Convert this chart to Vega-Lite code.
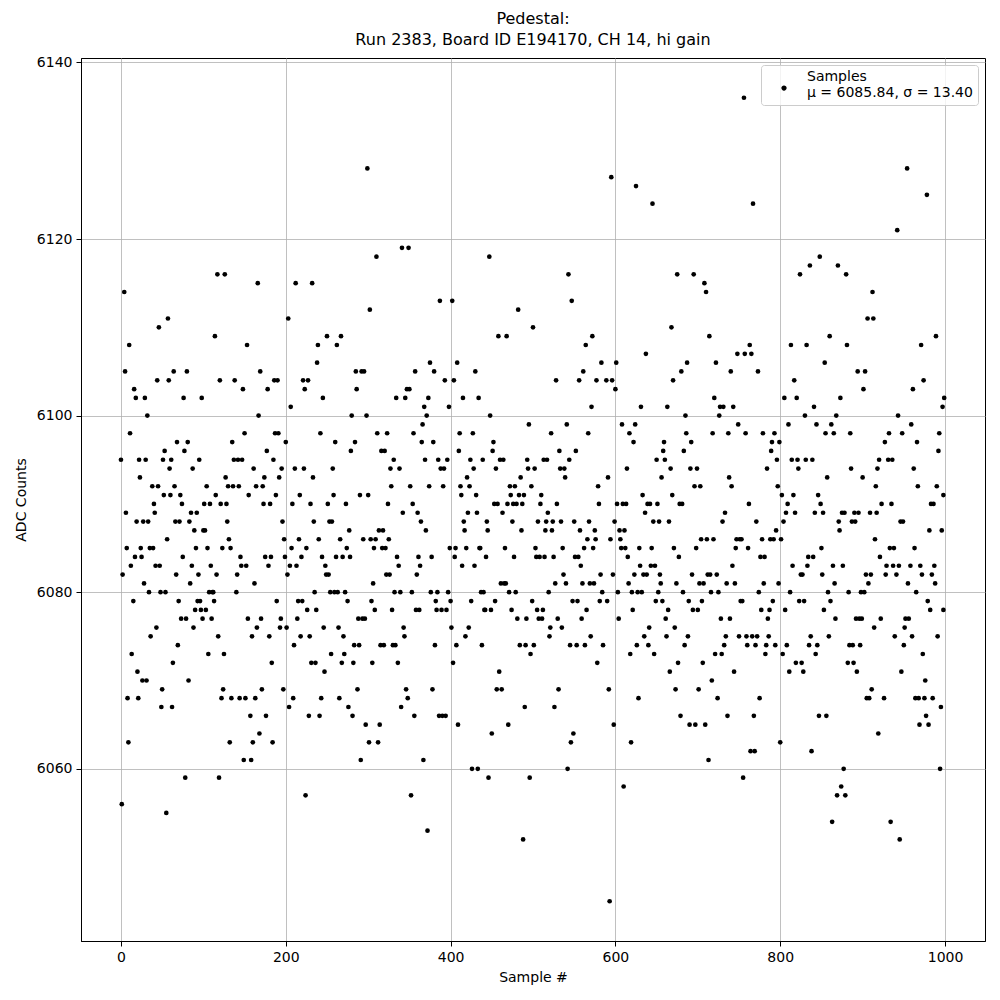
{
"$schema": "https://vega.github.io/schema/vega-lite/v6.json",
"width": 904, "height": 883,
"autosize": {"type": "none"},
"padding": {"left": 81, "top": 58, "right": 15, "bottom": 59},
"background": "white",
"title": {"text": ["Pedestal:", "Run 2383, Board ID E194170, CH 14, hi gain"], "fontSize": 16, "font": "DejaVu Sans", "fontWeight": "normal", "lineHeight": 21, "offset": 7, "anchor": "middle", "color": "black"},
"data": {"values": [
{"s":0,"v":6095},{"s":1,"v":6056},{"s":2,"v":6082},{"s":4,"v":6114},{"s":5,"v":6105},{"s":6,"v":6089},{"s":7,"v":6085},{"s":8,"v":6068},{"s":9,"v":6063},{"s":10,"v":6108},{"s":11,"v":6098},{"s":12,"v":6083},{"s":13,"v":6073},{"s":15,"v":6079},{"s":16,"v":6103},{"s":17,"v":6084},{"s":18,"v":6102},{"s":19,"v":6088},{"s":20,"v":6071},{"s":21,"v":6068},{"s":22,"v":6095},{"s":23,"v":6093},{"s":24,"v":6085},{"s":25,"v":6084},{"s":26,"v":6070},{"s":27,"v":6088},{"s":28,"v":6081},{"s":29,"v":6102},{"s":30,"v":6095},{"s":31,"v":6070},{"s":32,"v":6100},{"s":33,"v":6088},{"s":34,"v":6080},{"s":35,"v":6085},{"s":36,"v":6075},{"s":38,"v":6092},{"s":39,"v":6085},{"s":40,"v":6090},{"s":41,"v":6089},{"s":42,"v":6083},{"s":43,"v":6076},{"s":44,"v":6104},{"s":45,"v":6092},{"s":46,"v":6110},{"s":47,"v":6083},{"s":48,"v":6080},{"s":49,"v":6067},{"s":50,"v":6069},{"s":51,"v":6095},{"s":52,"v":6091},{"s":53,"v":6096},{"s":54,"v":6080},{"s":55,"v":6055},{"s":56,"v":6086},{"s":57,"v":6111},{"s":58,"v":6104},{"s":59,"v":6094},{"s":60,"v":6091},{"s":61,"v":6095},{"s":62,"v":6067},{"s":63,"v":6072},{"s":64,"v":6105},{"s":65,"v":6092},{"s":66,"v":6088},{"s":67,"v":6082},{"s":68,"v":6097},{"s":69,"v":6074},{"s":70,"v":6079},{"s":71,"v":6088},{"s":72,"v":6091},{"s":73,"v":6077},{"s":74,"v":6090},{"s":75,"v":6084},
{"s":76,"v":6102},{"s":77,"v":6096},{"s":78,"v":6059},{"s":79,"v":6077},{"s":80,"v":6105},{"s":81,"v":6097},{"s":82,"v":6070},{"s":83,"v":6088},{"s":84,"v":6081},{"s":85,"v":6089},{"s":86,"v":6083},{"s":87,"v":6094},{"s":88,"v":6076},{"s":89,"v":6087},{"s":90,"v":6078},{"s":91,"v":6085},{"s":92,"v":6089},{"s":93,"v":6079},{"s":94,"v":6082},{"s":95,"v":6095},{"s":96,"v":6079},{"s":97,"v":6078},{"s":98,"v":6102},{"s":99,"v":6077},{"s":100,"v":6087},{"s":101,"v":6090},{"s":102,"v":6087},{"s":103,"v":6078},{"s":104,"v":6092},{"s":105,"v":6085},{"s":106,"v":6073},{"s":107,"v":6080},{"s":108,"v":6090},{"s":109,"v":6083},{"s":110,"v":6077},{"s":111,"v":6080},{"s":112,"v":6080},{"s":113,"v":6079},{"s":114,"v":6109},{"s":115,"v":6091},{"s":116,"v":6082},{"s":117,"v":6116},{"s":118,"v":6075},{"s":119,"v":6059},{"s":120,"v":6104},{"s":121,"v":6090},{"s":122,"v":6068},{"s":123,"v":6085},{"s":124,"v":6069},{"s":125,"v":6073},{"s":126,"v":6116},{"s":127,"v":6093},{"s":128,"v":6090},{"s":129,"v":6088},{"s":130,"v":6092},{"s":131,"v":6086},{"s":132,"v":6063},{"s":133,"v":6085},{"s":134,"v":6068},{"s":135,"v":6097},{"s":136,"v":6092},{"s":137,"v":6095},{"s":138,"v":6104},{"s":140,"v":6080},{"s":141,"v":6082},{"s":142,"v":6095},{"s":143,"v":6092},{"s":144,"v":6068},{"s":145,"v":6084},{"s":146,"v":6083},{"s":147,"v":6095},{"s":148,"v":6103},{"s":149,"v":6061},{"s":150,"v":6098},{"s":151,"v":6068},{"s":152,"v":6083},{"s":153,"v":6108},{"s":154,"v":6077},{"s":155,"v":6091},{"s":157,"v":6066},{"s":158,"v":6061},
{"s":159,"v":6075},{"s":160,"v":6063},{"s":161,"v":6094},{"s":162,"v":6081},{"s":163,"v":6068},{"s":164,"v":6092},{"s":165,"v":6076},{"s":166,"v":6115},{"s":167,"v":6100},{"s":168,"v":6064},{"s":169,"v":6105},{"s":170,"v":6077},{"s":171,"v":6069},{"s":172,"v":6092},{"s":173,"v":6090},{"s":174,"v":6093},{"s":175,"v":6084},{"s":176,"v":6066},{"s":177,"v":6096},{"s":178,"v":6103},{"s":179,"v":6083},{"s":180,"v":6075},{"s":181,"v":6090},{"s":182,"v":6084},{"s":183,"v":6072},{"s":184,"v":6063},{"s":185,"v":6095},{"s":186,"v":6104},{"s":187,"v":6098},{"s":188,"v":6091},{"s":189,"v":6079},{"s":190,"v":6104},{"s":191,"v":6098},{"s":192,"v":6093},{"s":193,"v":6076},{"s":194,"v":6077},{"s":195,"v":6094},{"s":196,"v":6088},{"s":197,"v":6069},{"s":198,"v":6086},{"s":199,"v":6084},{"s":200,"v":6097},{"s":201,"v":6076},{"s":202,"v":6082},{"s":203,"v":6111},{"s":204,"v":6067},{"s":205,"v":6083},{"s":206,"v":6101},{"s":207,"v":6085},{"s":208,"v":6090},{"s":209,"v":6068},{"s":210,"v":6074},{"s":211,"v":6094},{"s":212,"v":6115},{"s":213,"v":6083},{"s":214,"v":6077},{"s":215,"v":6079},{"s":216,"v":6086},{"s":217,"v":6091},{"s":218,"v":6075},{"s":219,"v":6084},{"s":220,"v":6079},{"s":221,"v":6104},{"s":222,"v":6094},{"s":223,"v":6103},{"s":224,"v":6057},{"s":225,"v":6085},{"s":226,"v":6078},{"s":227,"v":6104},{"s":228,"v":6066},{"s":229,"v":6075},{"s":230,"v":6090},{"s":231,"v":6072},{"s":232,"v":6115},{"s":233,"v":6093},{"s":234,"v":6088},{"s":235,"v":6080},{"s":236,"v":6072},{"s":237,"v":6078},{"s":238,"v":6106},{"s":239,"v":6108},{"s":240,"v":6086},{"s":241,"v":6066},{"s":242,"v":6098},{"s":243,"v":6068},{"s":244,"v":6084},
{"s":245,"v":6102},{"s":246,"v":6076},{"s":247,"v":6071},{"s":248,"v":6083},{"s":249,"v":6082},{"s":250,"v":6109},{"s":251,"v":6090},{"s":252,"v":6082},{"s":253,"v":6088},{"s":254,"v":6080},{"s":255,"v":6073},{"s":256,"v":6088},{"s":257,"v":6094},{"s":258,"v":6091},{"s":259,"v":6080},{"s":260,"v":6097},{"s":261,"v":6084},{"s":262,"v":6108},{"s":263,"v":6080},{"s":264,"v":6076},{"s":265,"v":6068},{"s":266,"v":6086},{"s":267,"v":6109},{"s":268,"v":6072},{"s":269,"v":6084},{"s":270,"v":6075},{"s":271,"v":6073},{"s":272,"v":6080},{"s":273,"v":6090},{"s":274,"v":6085},{"s":275,"v":6079},{"s":276,"v":6067},{"s":277,"v":6087},{"s":278,"v":6084},{"s":279,"v":6096},{"s":280,"v":6100},{"s":281,"v":6066},{"s":282,"v":6072},{"s":283,"v":6074},{"s":284,"v":6097},{"s":285,"v":6105},{"s":286,"v":6103},{"s":287,"v":6069},{"s":288,"v":6077},{"s":289,"v":6074},{"s":290,"v":6091},{"s":291,"v":6061},{"s":292,"v":6105},{"s":293,"v":6077},{"s":294,"v":6086},{"s":295,"v":6105},{"s":296,"v":6077},{"s":297,"v":6065},{"s":298,"v":6100},{"s":299,"v":6128},{"s":300,"v":6091},{"s":301,"v":6063},{"s":302,"v":6112},{"s":303,"v":6086},{"s":304,"v":6079},{"s":305,"v":6072},{"s":306,"v":6081},{"s":307,"v":6085},{"s":308,"v":6078},{"s":309,"v":6086},{"s":310,"v":6118},{"s":311,"v":6098},{"s":312,"v":6063},{"s":313,"v":6087},{"s":314,"v":6065},{"s":315,"v":6074},{"s":316,"v":6096},{"s":317,"v":6085},{"s":318,"v":6087},{"s":319,"v":6074},{"s":320,"v":6096},{"s":321,"v":6085},{"s":322,"v":6082},{"s":323,"v":6098},{"s":324,"v":6090},{"s":325,"v":6086},{"s":326,"v":6082},{"s":327,"v":6094},{"s":328,"v":6092},{"s":329,"v":6078},{"s":330,"v":6074},
{"s":331,"v":6095},{"s":332,"v":6080},{"s":333,"v":6074},{"s":334,"v":6102},{"s":335,"v":6084},{"s":336,"v":6072},{"s":337,"v":6083},{"s":338,"v":6094},{"s":339,"v":6080},{"s":340,"v":6067},{"s":341,"v":6119},{"s":342,"v":6089},{"s":343,"v":6076},{"s":344,"v":6075},{"s":345,"v":6102},{"s":346,"v":6069},{"s":347,"v":6103},{"s":348,"v":6068},{"s":349,"v":6119},{"s":350,"v":6103},{"s":351,"v":6092},{"s":352,"v":6057},{"s":353,"v":6080},{"s":354,"v":6090},{"s":355,"v":6098},{"s":356,"v":6066},{"s":357,"v":6105},{"s":358,"v":6078},{"s":359,"v":6082},{"s":360,"v":6089},{"s":361,"v":6084},{"s":362,"v":6078},{"s":363,"v":6083},{"s":364,"v":6088},{"s":365,"v":6097},{"s":366,"v":6099},{"s":367,"v":6061},{"s":368,"v":6101},{"s":369,"v":6095},{"s":370,"v":6087},{"s":371,"v":6100},{"s":372,"v":6053},{"s":373,"v":6102},{"s":374,"v":6092},{"s":375,"v":6106},{"s":376,"v":6080},{"s":377,"v":6084},{"s":378,"v":6069},{"s":379,"v":6097},{"s":380,"v":6105},{"s":381,"v":6074},{"s":382,"v":6079},{"s":383,"v":6078},{"s":384,"v":6080},{"s":385,"v":6095},{"s":386,"v":6066},{"s":387,"v":6113},{"s":388,"v":6094},{"s":389,"v":6078},{"s":390,"v":6066},{"s":391,"v":6092},{"s":392,"v":6094},{"s":393,"v":6104},{"s":394,"v":6066},{"s":395,"v":6078},{"s":396,"v":6095},{"s":397,"v":6080},{"s":398,"v":6101},{"s":399,"v":6085},{"s":400,"v":6079},{"s":401,"v":6076},{"s":402,"v":6113},{"s":403,"v":6072},{"s":404,"v":6104},{"s":405,"v":6084},{"s":406,"v":6085},{"s":407,"v":6074},{"s":408,"v":6106},{"s":409,"v":6065},{"s":410,"v":6096},{"s":411,"v":6098},{"s":412,"v":6092},{"s":413,"v":6091},{"s":414,"v":6083},{"s":415,"v":6102},
{"s":416,"v":6088},{"s":417,"v":6087},{"s":418,"v":6075},{"s":419,"v":6085},{"s":420,"v":6093},{"s":421,"v":6089},{"s":422,"v":6076},{"s":423,"v":6092},{"s":424,"v":6095},{"s":425,"v":6079},{"s":426,"v":6060},{"s":427,"v":6098},{"s":428,"v":6094},{"s":429,"v":6083},{"s":430,"v":6105},{"s":431,"v":6091},{"s":432,"v":6089},{"s":433,"v":6060},{"s":434,"v":6102},{"s":435,"v":6085},{"s":436,"v":6085},{"s":437,"v":6080},{"s":438,"v":6074},{"s":439,"v":6095},{"s":440,"v":6080},{"s":441,"v":6078},{"s":442,"v":6078},{"s":443,"v":6084},{"s":444,"v":6088},{"s":445,"v":6087},{"s":446,"v":6059},{"s":447,"v":6118},{"s":448,"v":6100},{"s":449,"v":6078},{"s":450,"v":6064},{"s":451,"v":6096},{"s":452,"v":6097},{"s":453,"v":6090},{"s":454,"v":6079},{"s":455,"v":6094},{"s":456,"v":6069},{"s":457,"v":6090},{"s":458,"v":6109},{"s":459,"v":6071},{"s":460,"v":6095},{"s":461,"v":6081},{"s":462,"v":6069},{"s":463,"v":6089},{"s":464,"v":6095},{"s":465,"v":6081},{"s":466,"v":6085},{"s":467,"v":6081},{"s":468,"v":6109},{"s":469,"v":6090},{"s":470,"v":6065},{"s":471,"v":6080},{"s":472,"v":6092},{"s":473,"v":6091},{"s":474,"v":6078},{"s":475,"v":6088},{"s":476,"v":6090},{"s":477,"v":6084},{"s":478,"v":6092},{"s":479,"v":6080},{"s":480,"v":6090},{"s":481,"v":6077},{"s":482,"v":6112},{"s":483,"v":6091},{"s":484,"v":6074},{"s":485,"v":6093},{"s":486,"v":6087},{"s":487,"v":6090},{"s":488,"v":6052},{"s":489,"v":6091},{"s":490,"v":6067},{"s":491,"v":6074},{"s":492,"v":6077},{"s":493,"v":6095},{"s":494,"v":6094},{"s":495,"v":6099},{"s":496,"v":6059},{"s":497,"v":6073},{"s":498,"v":6092},{"s":499,"v":6079},{"s":500,"v":6110},{"s":501,"v":6074},{"s":502,"v":6094},{"s":503,"v":6085},
{"s":504,"v":6084},{"s":505,"v":6078},{"s":506,"v":6088},{"s":507,"v":6077},{"s":508,"v":6084},{"s":509,"v":6090},{"s":510,"v":6091},{"s":511,"v":6077},{"s":512,"v":6078},{"s":513,"v":6095},{"s":514,"v":6084},{"s":515,"v":6087},{"s":516,"v":6088},{"s":517,"v":6095},{"s":518,"v":6089},{"s":519,"v":6080},{"s":520,"v":6075},{"s":521,"v":6076},{"s":522,"v":6098},{"s":523,"v":6087},{"s":524,"v":6088},{"s":525,"v":6084},{"s":526,"v":6067},{"s":527,"v":6081},{"s":528,"v":6104},{"s":529,"v":6090},{"s":530,"v":6077},{"s":531,"v":6069},{"s":532,"v":6096},{"s":533,"v":6094},{"s":534,"v":6088},{"s":535,"v":6076},{"s":536,"v":6085},{"s":537,"v":6082},{"s":538,"v":6094},{"s":539,"v":6093},{"s":540,"v":6081},{"s":541,"v":6099},{"s":542,"v":6060},{"s":543,"v":6116},{"s":544,"v":6095},{"s":545,"v":6074},{"s":546,"v":6063},{"s":547,"v":6113},{"s":548,"v":6079},{"s":549,"v":6064},{"s":550,"v":6088},{"s":551,"v":6084},{"s":552,"v":6096},{"s":553,"v":6074},{"s":554,"v":6079},{"s":555,"v":6084},{"s":556,"v":6104},{"s":557,"v":6087},{"s":558,"v":6083},{"s":559,"v":6077},{"s":560,"v":6081},{"s":561,"v":6105},{"s":562,"v":6085},{"s":563,"v":6074},{"s":564,"v":6108},{"s":565,"v":6078},{"s":566,"v":6086},{"s":567,"v":6098},{"s":568,"v":6088},{"s":569,"v":6081},{"s":570,"v":6075},{"s":571,"v":6101},{"s":572,"v":6109},{"s":573,"v":6085},{"s":574,"v":6081},{"s":575,"v":6087},{"s":576,"v":6086},{"s":577,"v":6104},{"s":578,"v":6072},{"s":579,"v":6092},{"s":580,"v":6090},{"s":581,"v":6079},{"s":582,"v":6082},{"s":583,"v":6106},{"s":584,"v":6080},{"s":585,"v":6074},
{"s":589,"v":6104},{"s":590,"v":6079},{"s":591,"v":6093},{"s":592,"v":6069},{"s":593,"v":6045},{"s":594,"v":6086},{"s":595,"v":6127},{"s":596,"v":6104},{"s":597,"v":6082},{"s":598,"v":6065},{"s":599,"v":6088},{"s":600,"v":6103},{"s":601,"v":6106},{"s":602,"v":6090},{"s":603,"v":6080},{"s":604,"v":6077},{"s":605,"v":6087},{"s":606,"v":6086},{"s":607,"v":6085},{"s":608,"v":6099},{"s":609,"v":6090},{"s":610,"v":6058},{"s":611,"v":6087},{"s":612,"v":6085},{"s":613,"v":6090},{"s":614,"v":6094},{"s":615,"v":6084},{"s":616,"v":6081},{"s":617,"v":6098},{"s":618,"v":6073},{"s":619,"v":6063},{"s":620,"v":6080},{"s":621,"v":6078},{"s":622,"v":6097},{"s":623,"v":6082},{"s":624,"v":6099},{"s":625,"v":6126},{"s":626,"v":6074},{"s":627,"v":6080},{"s":628,"v":6068},{"s":629,"v":6085},{"s":630,"v":6083},{"s":631,"v":6101},{"s":632,"v":6080},{"s":633,"v":6091},{"s":634,"v":6082},{"s":635,"v":6075},{"s":636,"v":6089},{"s":637,"v":6107},{"s":638,"v":6082},{"s":639,"v":6090},{"s":640,"v":6074},{"s":641,"v":6076},{"s":642,"v":6090},{"s":643,"v":6083},{"s":644,"v":6085},{"s":645,"v":6124},{"s":646,"v":6088},{"s":647,"v":6073},{"s":648,"v":6083},{"s":649,"v":6079},{"s":650,"v":6095},{"s":651,"v":6090},{"s":652,"v":6080},{"s":653,"v":6088},{"s":654,"v":6082},{"s":655,"v":6081},{"s":656,"v":6093},{"s":657,"v":6079},{"s":658,"v":6096},{"s":659,"v":6097},{"s":660,"v":6095},{"s":661,"v":6077},{"s":662,"v":6075},{"s":663,"v":6101},{"s":664,"v":6078},{"s":665,"v":6088},{"s":666,"v":6071},{"s":667,"v":6094},{"s":668,"v":6110},{"s":669,"v":6091},{"s":670,"v":6104},{"s":671,"v":6085},{"s":672,"v":6076},{"s":673,"v":6069},
{"s":674,"v":6081},{"s":675,"v":6116},{"s":676,"v":6072},{"s":677,"v":6084},{"s":678,"v":6090},{"s":679,"v":6066},{"s":680,"v":6105},{"s":681,"v":6090},{"s":682,"v":6080},{"s":683,"v":6096},{"s":684,"v":6074},{"s":685,"v":6100},{"s":686,"v":6098},{"s":687,"v":6106},{"s":688,"v":6075},{"s":689,"v":6079},{"s":690,"v":6065},{"s":691,"v":6094},{"s":692,"v":6097},{"s":693,"v":6082},{"s":694,"v":6078},{"s":695,"v":6116},{"s":696,"v":6092},{"s":697,"v":6065},{"s":698,"v":6085},{"s":699,"v":6094},{"s":700,"v":6078},{"s":701,"v":6069},{"s":702,"v":6081},{"s":703,"v":6092},{"s":704,"v":6086},{"s":705,"v":6079},{"s":706,"v":6072},{"s":707,"v":6081},{"s":708,"v":6115},{"s":709,"v":6065},{"s":710,"v":6114},{"s":711,"v":6086},{"s":712,"v":6082},{"s":713,"v":6061},{"s":714,"v":6109},{"s":715,"v":6082},{"s":716,"v":6080},{"s":717,"v":6070},{"s":718,"v":6098},{"s":719,"v":6086},{"s":720,"v":6102},{"s":721,"v":6073},{"s":722,"v":6106},{"s":723,"v":6082},{"s":724,"v":6068},{"s":725,"v":6080},{"s":726,"v":6100},{"s":727,"v":6101},{"s":728,"v":6077},{"s":729,"v":6073},{"s":730,"v":6088},{"s":731,"v":6101},{"s":732,"v":6074},{"s":733,"v":6089},{"s":734,"v":6075},{"s":735,"v":6081},{"s":736,"v":6066},{"s":737,"v":6098},{"s":738,"v":6093},{"s":739,"v":6077},{"s":740,"v":6105},{"s":741,"v":6092},{"s":742,"v":6083},{"s":743,"v":6101},{"s":744,"v":6071},{"s":745,"v":6081},{"s":746,"v":6085},{"s":747,"v":6086},{"s":748,"v":6107},{"s":749,"v":6099},{"s":750,"v":6075},{"s":751,"v":6086},{"s":752,"v":6079},
{"s":753,"v":6086},{"s":754,"v":6079},{"s":755,"v":6059},{"s":756,"v":6136},{"s":757,"v":6107},{"s":758,"v":6098},{"s":759,"v":6075},{"s":760,"v":6074},{"s":761,"v":6085},{"s":762,"v":6090},{"s":763,"v":6108},{"s":764,"v":6062},{"s":765,"v":6107},{"s":766,"v":6075},{"s":767,"v":6124},{"s":768,"v":6066},{"s":769,"v":6062},{"s":770,"v":6074},{"s":771,"v":6088},{"s":772,"v":6075},{"s":773,"v":6105},{"s":774,"v":6080},{"s":775,"v":6068},{"s":776,"v":6084},{"s":777,"v":6078},{"s":778,"v":6086},{"s":779,"v":6098},{"s":780,"v":6081},{"s":781,"v":6084},{"s":782,"v":6073},{"s":783,"v":6074},{"s":784,"v":6094},{"s":785,"v":6077},{"s":786,"v":6075},{"s":787,"v":6078},{"s":788,"v":6086},{"s":789,"v":6096},{"s":790,"v":6097},{"s":791,"v":6079},{"s":792,"v":6086},{"s":793,"v":6098},{"s":794,"v":6074},{"s":795,"v":6087},{"s":796,"v":6095},{"s":797,"v":6092},{"s":798,"v":6081},{"s":799,"v":6097},{"s":800,"v":6063},{"s":801,"v":6086},{"s":802,"v":6091},{"s":803,"v":6073},{"s":804,"v":6088},{"s":805,"v":6102},{"s":806,"v":6078},{"s":807,"v":6089},{"s":808,"v":6074},{"s":809,"v":6090},{"s":810,"v":6099},{"s":811,"v":6071},{"s":812,"v":6080},{"s":813,"v":6108},{"s":814,"v":6095},{"s":815,"v":6083},{"s":816,"v":6091},{"s":817,"v":6104},{"s":818,"v":6089},{"s":819,"v":6072},{"s":820,"v":6102},{"s":821,"v":6095},{"s":822,"v":6094},{"s":823,"v":6079},{"s":824,"v":6116},{"s":825,"v":6082},{"s":826,"v":6072},{"s":827,"v":6082},{"s":828,"v":6071},{"s":829,"v":6079},{"s":830,"v":6100},{"s":831,"v":6095},{"s":832,"v":6108},{"s":833,"v":6083},{"s":834,"v":6084},{"s":835,"v":6074},{"s":836,"v":6117},{"s":837,"v":6075},{"s":838,"v":6062},
{"s":839,"v":6095},{"s":840,"v":6084},{"s":841,"v":6101},{"s":842,"v":6089},{"s":843,"v":6073},{"s":844,"v":6099},{"s":845,"v":6074},{"s":846,"v":6091},{"s":847,"v":6066},{"s":848,"v":6118},{"s":849,"v":6090},{"s":850,"v":6085},{"s":851,"v":6082},{"s":852,"v":6089},{"s":853,"v":6078},{"s":854,"v":6106},{"s":855,"v":6098},{"s":856,"v":6066},{"s":857,"v":6093},{"s":858,"v":6080},{"s":859,"v":6075},{"s":860,"v":6109},{"s":861,"v":6079},{"s":862,"v":6099},{"s":863,"v":6054},{"s":864,"v":6083},{"s":865,"v":6098},{"s":866,"v":6081},{"s":867,"v":6077},{"s":868,"v":6100},{"s":869,"v":6057},{"s":870,"v":6117},{"s":871,"v":6088},{"s":872,"v":6087},{"s":873,"v":6102},{"s":874,"v":6058},{"s":875,"v":6089},{"s":876,"v":6083},{"s":877,"v":6060},{"s":878,"v":6089},{"s":879,"v":6057},{"s":880,"v":6116},{"s":881,"v":6108},{"s":882,"v":6072},{"s":883,"v":6080},{"s":884,"v":6074},{"s":885,"v":6098},{"s":886,"v":6094},{"s":887,"v":6088},{"s":888,"v":6074},{"s":889,"v":6072},{"s":890,"v":6089},{"s":891,"v":6088},{"s":892,"v":6077},{"s":893,"v":6071},{"s":894,"v":6105},{"s":895,"v":6089},{"s":896,"v":6077},{"s":897,"v":6074},{"s":898,"v":6080},{"s":899,"v":6077},{"s":900,"v":6093},{"s":901,"v":6103},{"s":902,"v":6080},{"s":903,"v":6105},{"s":904,"v":6082},{"s":905,"v":6068},{"s":906,"v":6111},{"s":907,"v":6081},{"s":908,"v":6068},{"s":909,"v":6089},{"s":910,"v":6082},{"s":911,"v":6069},{"s":912,"v":6114},{"s":913,"v":6111},{"s":914,"v":6076},{"s":915,"v":6086},{"s":916,"v":6092},{"s":917,"v":6089},{"s":918,"v":6094},{"s":919,"v":6064},{"s":920,"v":6095},{"s":921,"v":6084},{"s":922,"v":6077},
{"s":923,"v":6090},{"s":926,"v":6068},{"s":927,"v":6097},{"s":928,"v":6082},{"s":929,"v":6083},{"s":931,"v":6095},{"s":932,"v":6098},{"s":933,"v":6085},{"s":934,"v":6054},{"s":935,"v":6090},{"s":936,"v":6095},{"s":937,"v":6083},{"s":938,"v":6085},{"s":939,"v":6075},{"s":941,"v":6082},{"s":942,"v":6121},{"s":943,"v":6100},{"s":944,"v":6083},{"s":945,"v":6052},{"s":946,"v":6088},{"s":947,"v":6071},{"s":948,"v":6098},{"s":949,"v":6088},{"s":950,"v":6074},{"s":951,"v":6076},{"s":952,"v":6077},{"s":954,"v":6128},{"s":955,"v":6081},{"s":956,"v":6077},{"s":958,"v":6083},{"s":959,"v":6099},{"s":960,"v":6075},{"s":961,"v":6103},{"s":962,"v":6094},{"s":963,"v":6085},{"s":964,"v":6068},{"s":965,"v":6080},{"s":966,"v":6097},{"s":967,"v":6092},{"s":968,"v":6068},{"s":969,"v":6065},{"s":970,"v":6083},{"s":971,"v":6108},{"s":972,"v":6082},{"s":973,"v":6073},{"s":974,"v":6104},{"s":975,"v":6068},{"s":976,"v":6070},{"s":977,"v":6066},{"s":978,"v":6125},{"s":979,"v":6079},{"s":980,"v":6065},{"s":981,"v":6087},{"s":982,"v":6078},{"s":983,"v":6090},{"s":984,"v":6082},{"s":985,"v":6068},{"s":986,"v":6090},{"s":987,"v":6083},{"s":988,"v":6081},{"s":989,"v":6109},{"s":990,"v":6092},{"s":991,"v":6075},{"s":992,"v":6096},{"s":993,"v":6098},{"s":994,"v":6060},{"s":995,"v":6067},{"s":996,"v":6087},{"s":997,"v":6101},{"s":998,"v":6091},{"s":998,"v":6078},{"s":999,"v":6102}
]},
"mark": {"type": "circle", "size": 22, "opacity": 1},
"encoding": {
  "x": {"field": "s", "type": "quantitative", "title": "Sample #",
        "scale": {"domain": [-48.5, 1048.5], "nice": false, "zero": false},
        "axis": {"values": [0, 200, 400, 600, 800, 1000], "format": "d", "titlePadding": 6}},
  "y": {"field": "v", "type": "quantitative", "title": "ADC Counts",
        "scale": {"domain": [6040.5, 6140.5], "nice": false, "zero": false},
        "axis": {"values": [6060, 6080, 6100, 6120, 6140], "format": "d", "titlePadding": 8}},
  "color": {"datum": "Samples", "type": "nominal",
            "scale": {"range": ["#000000"]},
            "legend": {"title": null, "orient": "top-right", "offset": 7,
                       "labelExpr": "['Samples', 'μ = 6085.84, σ = 13.40']",
                       "labelFontSize": 14, "labelFont": "DejaVu Sans", "labelColor": "black",
                       "labelLimit": 400, "labelOffset": 16,
                       "symbolType": "M -1 4.2 A 1 1 0 1 1 1 4.2 A 1 1 0 1 1 -1 4.2 Z",
                       "symbolSize": 28, "symbolOffset": 11, "symbolStrokeWidth": 0,
                       "fillColor": "rgba(255,255,255,0.8)", "strokeColor": "#cccccc",
                       "cornerRadius": 3, "padding": 5}}
},
"config": {
  "view": {"stroke": "black", "strokeWidth": 1},
  "axis": {"domainColor": "black", "tickColor": "black", "labelColor": "black", "titleColor": "black",
           "labelFont": "DejaVu Sans", "titleFont": "DejaVu Sans", "labelFontSize": 14, "titleFontSize": 14,
           "titleFontWeight": "normal", "tickSize": 5, "labelPadding": 4,
           "grid": true, "gridColor": "#b0b0b0", "gridWidth": 0.8, "domainWidth": 1}
}
}
